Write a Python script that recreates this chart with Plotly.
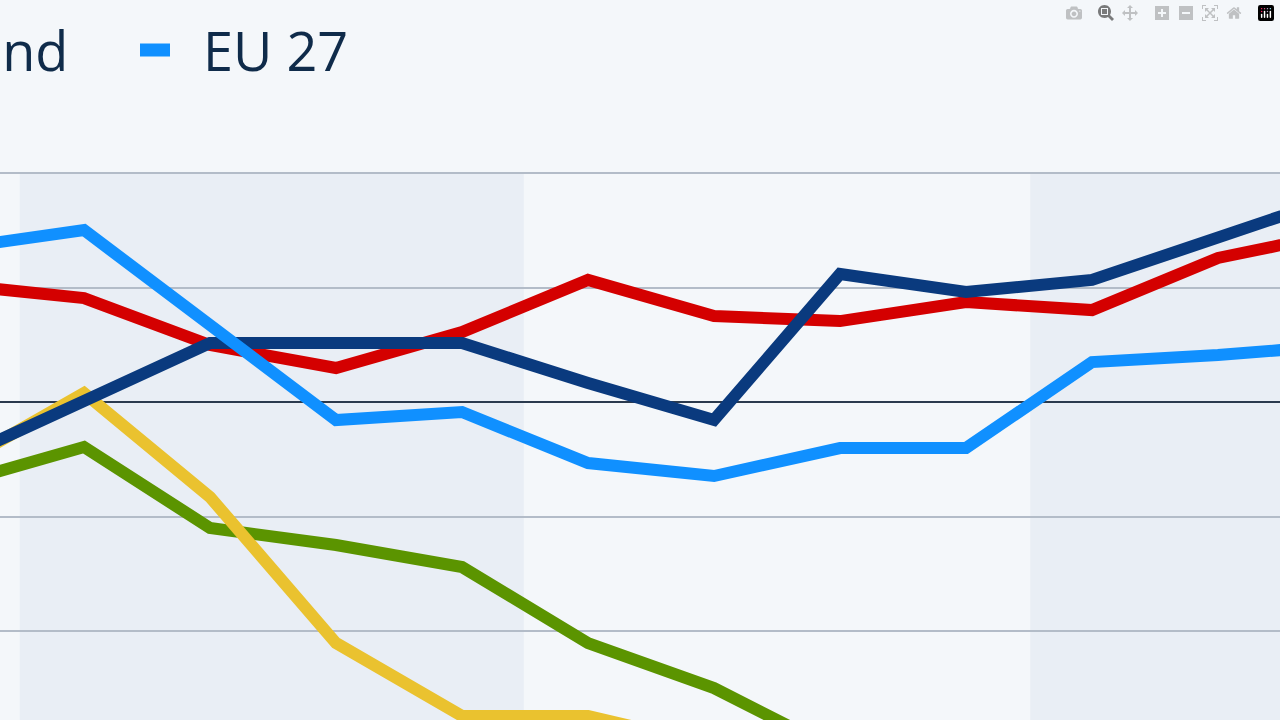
import plotly.graph_objects as go

x = list(range(0, 12))
eu27 = [1.345, 1.502, 0.672, -0.157, -0.087, -0.533, -0.646, -0.402, -0.402, 0.349, 0.410, 0.498]
red = [1.022, 0.908, 0.498, 0.297, 0.611, 1.066, 0.751, 0.707, 0.873, 0.803, 1.258, 1.485]
navy = [-0.498, 0.0, 0.515, 0.515, 0.515, 0.166, -0.157, 1.118, 0.961, 1.066, 1.432, 1.808]
yellow = [-0.55, 0.079, -0.830, -2.105, -2.742, -2.742, -3.0, -3.3]
green = [-0.707, -0.393, -1.100, -1.249, -1.441, -2.105, -2.498, -3.057]
legend_names = ["Deutschland", "EU 27"]

fig = go.Figure()
lw = 12
fig.add_trace(go.Scatter(x=x[:8], y=green, mode="lines", line=dict(color="#5b9400", width=lw)))
fig.add_trace(go.Scatter(x=x[:8], y=yellow, mode="lines", line=dict(color="#eac22f", width=lw)))
fig.add_trace(go.Scatter(x=x, y=red, mode="lines", line=dict(color="#d40000", width=lw)))
fig.add_trace(go.Scatter(x=x, y=navy, mode="lines", name=legend_names[0], line=dict(color="#0a3a7e", width=lw)))
fig.add_trace(go.Scatter(x=x, y=eu27, mode="lines", name=legend_names[1], line=dict(color="#1090ff", width=lw)))

for a, b in [(0.49, 4.49), (8.51, 12.5)]:
    fig.add_shape(type="rect", x0=a, x1=b, y0=-4, y1=2, fillcolor="#e9eef5", line_width=0, layer="below")

# legend (custom, to match spacing)
W, H = 1280, 720
fig.add_annotation(xref="paper", yref="paper", x=70 / W, y=1 - 50 / H, xanchor="right", yanchor="middle",
                   text=legend_names[0], showarrow=False,
                   font=dict(family="Open Sans", size=54, color="#0f2b4a"))
fig.add_shape(type="line", xref="paper", yref="paper", x0=140 / W, x1=170 / W, y0=1 - 50 / H, y1=1 - 50 / H,
              line=dict(color="#1090ff", width=13))
fig.add_annotation(xref="paper", yref="paper", x=201 / W, y=1 - 50 / H, xanchor="left", yanchor="middle",
                   text=legend_names[1], showarrow=False,
                   font=dict(family="Open Sans", size=54, color="#0f2b4a"))

fig.update_layout(
    width=1280, height=720, margin=dict(l=0, r=0, t=0, b=0, pad=0, autoexpand=False),
    paper_bgcolor="#f4f7fa", plot_bgcolor="#f4f7fa", showlegend=False,
    xaxis=dict(range=[0.3333, 10.492], showgrid=False, zeroline=False, showticklabels=False, fixedrange=True),
    yaxis=dict(range=[-2.777, 3.511], tickvals=[-2, -1, 1, 2], showticklabels=False,
               gridcolor="#b3bcc8", gridwidth=1.5, zeroline=True, zerolinecolor="#2b3a4e", zerolinewidth=1.5),
)
fig.write_html("out.html", post_script="document.body.style.margin='0';document.body.style.overflow='hidden';")
